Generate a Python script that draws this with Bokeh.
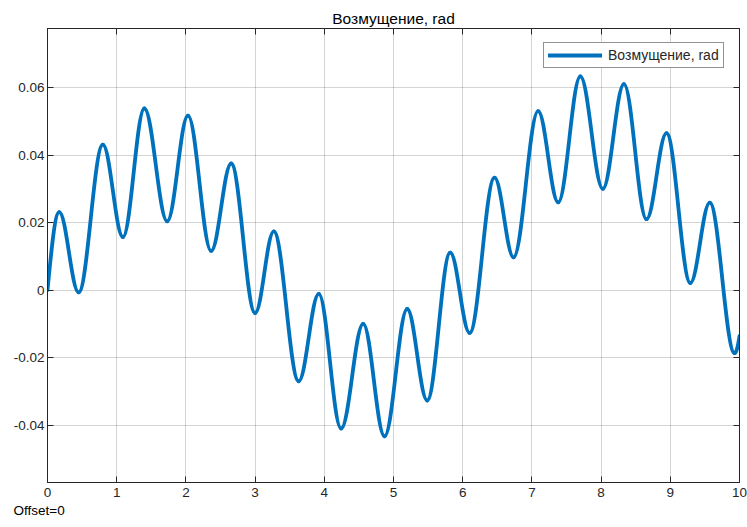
import numpy as np
from bokeh.plotting import figure
from bokeh.models import (Range1d, FixedTicker, LinearAxis, CustomJSTickFormatter,
                          Legend, LegendItem, ColumnDataSource, Title)
from bokeh.embed import file_html
from bokeh.resources import INLINE

# Signal: start point, successive peaks / troughs, end point
t_pts = [0.0, 0.17, 0.45, 0.80, 1.09, 1.40, 1.73, 2.03, 2.365, 2.654, 3.00, 3.27,
         3.63, 3.92, 4.243, 4.562, 4.87, 5.198, 5.487, 5.82, 6.10, 6.46, 6.735,
         7.09, 7.38, 7.70, 8.025, 8.33, 8.656, 8.945, 9.29, 9.57, 9.93, 10.0]
y_pts = [0.0, 0.0231, -0.0007, 0.0431, 0.0157, 0.0538, 0.0204, 0.0517, 0.0116,
         0.0375, -0.0068, 0.0174, -0.0270, -0.0011, -0.0410, -0.0100, -0.0433,
         -0.0056, -0.0327, 0.0111, -0.0127, 0.0333, 0.0097, 0.0530, 0.0260,
         0.0633, 0.0300, 0.0610, 0.0210, 0.0465, 0.0021, 0.0259, -0.0187, -0.0136]

x_ticks = [0, 1, 2, 3, 4, 5, 6, 7, 8, 9, 10]
x_labels = ["0", "1", "2", "3", "4", "5", "6", "7", "8", "9", "10"]
y_ticks = [-0.04, -0.02, 0.0, 0.02, 0.04, 0.06]
y_labels = ["-0.04", "-0.02", "0", "0.02", "0.04", "0.06"]

title_text = "Возмущение, rad"
legend_text = "Возмущение, rad"
offset_text = "Offset=0"

BLUE = "#0072BD"
INK = "#262626"
FONT = "Liberation Sans"

# smooth rendering between read points: cubic Bezier with flat tangents at extrema
tx = np.array(t_pts)
ty = np.array(y_pts)
x0, x1 = tx[:-1], tx[1:]
y0, y1 = ty[:-1], ty[1:]
dx = x1 - x0
K = 1 - 2 / np.pi
cx0 = x0 + K * dx
cy0 = y0.copy()
cx1 = x1 - K * dx
cy1 = y1.copy()
# first segment starts on a steep slope
cx0[0] = x0[0] + dx[0] / 3
cy0[0] = y0[0] + (y1[0] - y0[0]) * np.pi / 6
# last segment ends while rising
cx1[-1] = x1[-1] - dx[-1] / 3
cy1[-1] = y1[-1] - 0.6 * (y1[-1] - y0[-1])

src = ColumnDataSource(dict(x0=x0, y0=y0, x1=x1, y1=y1,
                            cx0=cx0, cy0=cy0, cx1=cx1, cy1=cy1))

p = figure(width=747, height=527, output_backend="svg", toolbar_location=None,
           x_range=Range1d(0, 10), y_range=Range1d(-0.057, 0.0775),
           min_border_left=47, min_border_right=8, min_border_top=28,
           min_border_bottom=45)
p.background_fill_color = "white"
p.border_fill_color = "white"
p.outline_line_color = INK
p.outline_line_width = 1

p.title.text = title_text
p.title.align = "center"
p.title.text_font = FONT
p.title.text_font_size = "15.5px"
p.title.text_font_style = "normal"
p.title.text_color = "#000000"
p.title.standoff = 3

fmt_code = """
const i = tvals.findIndex(t => Math.abs(t - tick) < 1e-9);
return i >= 0 ? tlabels[i] : "";
"""
xfmt = CustomJSTickFormatter(args=dict(tvals=x_ticks, tlabels=x_labels), code=fmt_code)
yfmt = CustomJSTickFormatter(args=dict(tvals=y_ticks, tlabels=y_labels), code=fmt_code)
blank = CustomJSTickFormatter(code="return '';")

for ax in p.xaxis:
    ax.ticker = FixedTicker(ticks=x_ticks)
    ax.formatter = xfmt
    ax.major_label_standoff = 5
for ax in p.yaxis:
    ax.ticker = FixedTicker(ticks=y_ticks)
    ax.formatter = yfmt
    ax.major_label_standoff = 3

top = LinearAxis(ticker=FixedTicker(ticks=x_ticks), formatter=blank)
right = LinearAxis(ticker=FixedTicker(ticks=y_ticks), formatter=blank)
p.add_layout(top, "above")
p.add_layout(right, "right")

for ax in [*p.xaxis, *p.yaxis]:
    ax.axis_line_color = INK
    ax.axis_line_width = 1
    ax.major_tick_line_color = INK
    ax.major_tick_line_width = 1
    ax.major_tick_in = 6
    ax.major_tick_out = 0
    ax.minor_tick_line_color = None
    ax.major_label_text_font = FONT
    ax.major_label_text_font_size = "13.5px"
    ax.major_label_text_color = INK
for ax in (top, right):
    ax.major_label_text_font_size = "0px"
    ax.major_label_standoff = 0

for g in (p.xgrid[0], p.ygrid[0]):
    g.grid_line_color = INK
    g.grid_line_alpha = 0.2
    g.grid_line_width = 1
p.xgrid[0].ticker = FixedTicker(ticks=x_ticks)
p.ygrid[0].ticker = FixedTicker(ticks=y_ticks)

bez = p.bezier(x0="x0", y0="y0", x1="x1", y1="y1", cx0="cx0", cy0="cy0",
               cx1="cx1", cy1="cy1", source=src, line_color=BLUE,
               line_width=3.8, line_cap="round")

legend = Legend(items=[LegendItem(label=legend_text, renderers=[bez])],
                location=(496, 414), orientation="vertical",
                padding=4, spacing=0, margin=0,
                glyph_width=54, glyph_height=16, label_height=16,
                label_standoff=6, label_text_font=FONT,
                label_text_font_size="14px", label_text_color=INK,
                border_line_color=INK, border_line_width=1,
                background_fill_color="white", background_fill_alpha=1)
p.add_layout(legend, "center")

p.add_layout(Title(text=offset_text, align="left", offset=-34, standoff=6,
                   vertical_align="top", text_font=FONT, text_font_size="13.5px",
                   text_font_style="normal", text_color="#000000"), "below")

open("out.html", "w").write(file_html(p, INLINE))
